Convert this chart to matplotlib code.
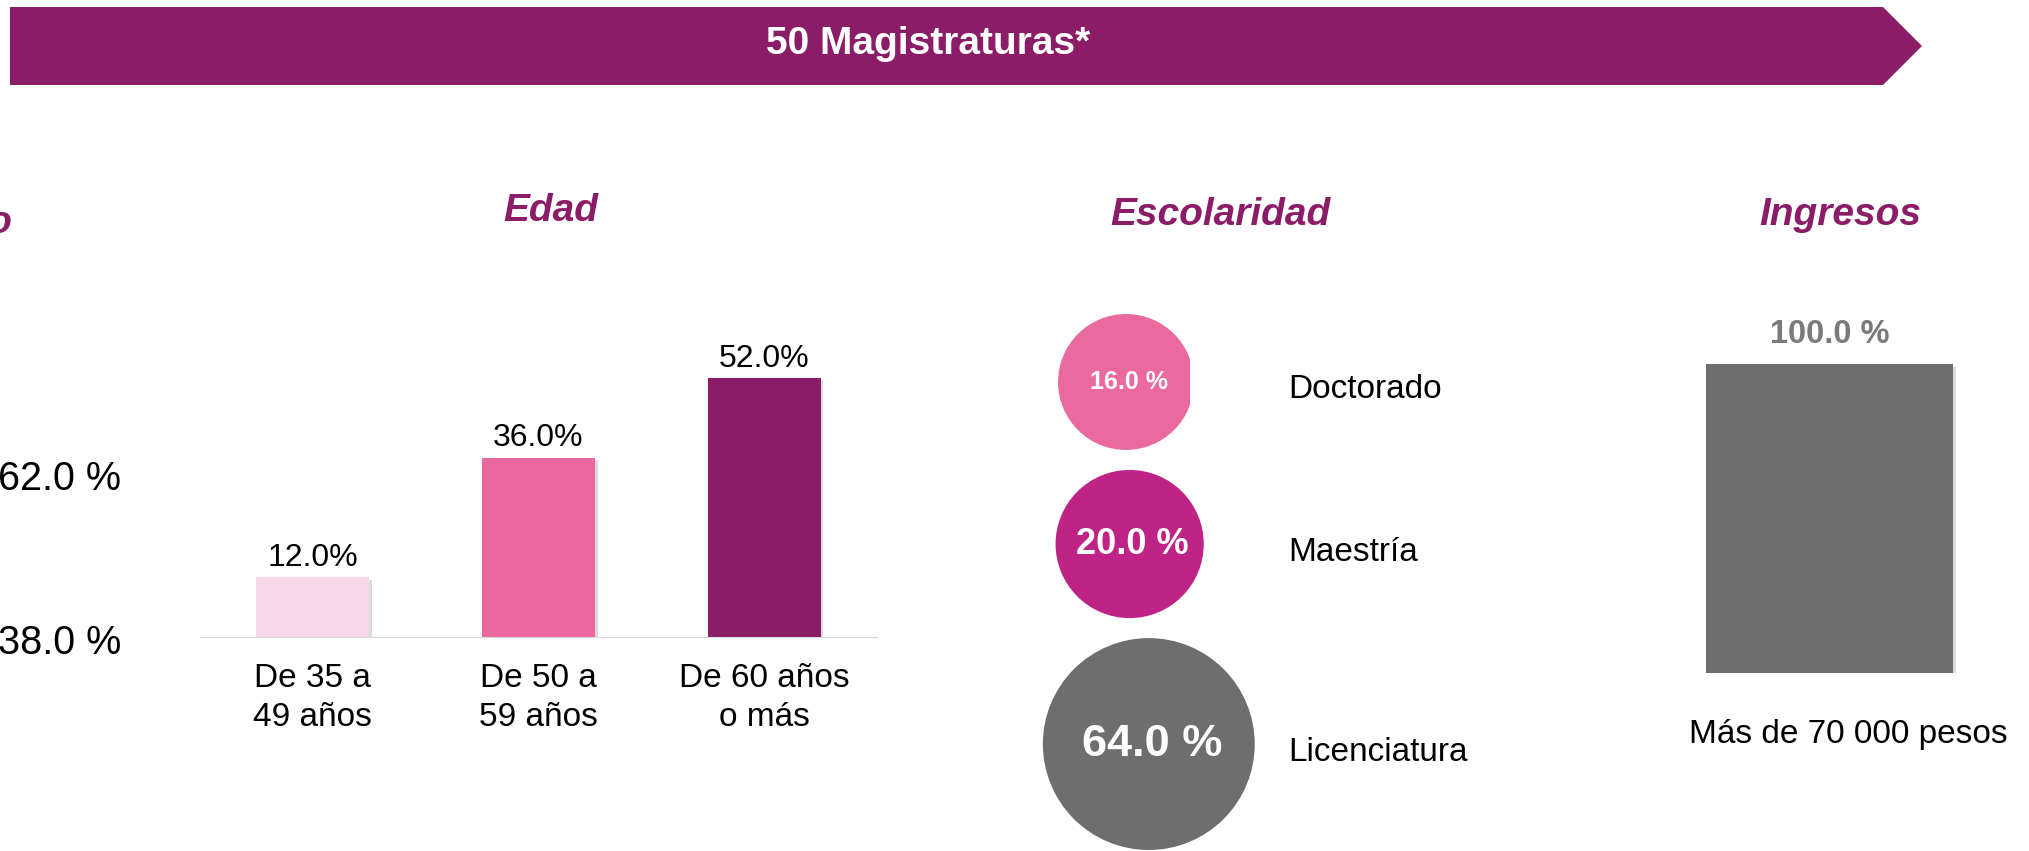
"""Perfil de magistraturas: edad, escolaridad e ingresos."""

import matplotlib.pyplot as plt
import matplotlib.patheffects as pe
import numpy as np
from matplotlib.patches import Circle, Polygon, Rectangle
from matplotlib.transforms import ScaledTranslation

plt.rcParams["font.family"] = ["Liberation Sans", "DejaVu Sans"]

W, H, DPI = 2029, 851, 100

# data
banner_title = "50 Magistraturas*"
panel_titles = ["Sexo", "Edad", "Escolaridad", "Ingresos"]
sexo_values = [62.0, 38.0]
edad_labels = ["De 35 a\n49 años", "De 50 a\n59 años", "De 60 años\no más"]
edad_values = [12.0, 36.0, 52.0]
escolaridad_labels = ["Doctorado", "Maestría", "Licenciatura"]
escolaridad_values = [16.0, 20.0, 64.0]
ingresos_labels = ["Más de 70 000 pesos"]
ingresos_values = [100.0]

PURPLE = "#8B1C67"
edad_colors = ["#F8D7E8", "#EA689F", "#8B1C67"]
esc_colors = ["#EA6A9F", "#C02386", "#6E6E6E"]
esc_label_sizes = [18, 26, 32.5]
GRAY = "#6E6E6E"
shadow = [pe.SimplePatchShadow(offset=(2, -2), shadow_rgbFace="#9a9a9a", alpha=0.35), pe.Normal()]


def box(x0, y0, x1, y1):
    # pixel box (top-left origin) -> figure fraction rect
    return [x0 / W, 1 - y1 / H, (x1 - x0) / W, (y1 - y0) / H]


fig = plt.figure(figsize=(W / DPI, H / DPI), dpi=DPI)

# background overlay in pixel units: banner + titles
bg = fig.add_axes([0, 0, 1, 1], zorder=-1)
bg.set_xlim(0, W)
bg.set_ylim(H, 0)
bg.axis("off")
bg.add_patch(Polygon([(10, 7), (1883, 7), (1922, 46), (1883, 85), (10, 85)],
                     closed=True, facecolor=PURPLE, edgecolor="none"))
bg.text(928, 44, banner_title, color="white", fontsize=28, fontweight="bold",
        ha="center", va="center")

title_kw = dict(color=PURPLE, fontsize=28, fontweight="bold", fontstyle="italic", va="center")
bg.text(12, 223, panel_titles[0], ha="right", **title_kw)
bg.text(551, 211, panel_titles[1], ha="center", **title_kw)
bg.text(1220, 215, panel_titles[2], ha="center", **title_kw)
bg.text(1840, 215, panel_titles[3], ha="center", **title_kw)

for y, v in zip([479, 643], sexo_values):
    bg.text(121, y, f"{v:.1f} %", fontsize=28.5, ha="right", va="center", color="black")

# Edad
ax = fig.add_axes(box(200, 338, 877, 637))
x = np.arange(len(edad_values))
bars = ax.bar(x, edad_values, width=0.5, color=edad_colors)
for b in bars:
    b.set_path_effects(shadow)
ax.bar_label(bars, labels=[f"{v:.1f}%" for v in edad_values], padding=3, fontsize=23)
ax.set_xlim(-0.5, 2.5)
ax.set_ylim(0, 60)
for s in ["left", "right", "top"]:
    ax.spines[s].set_visible(False)
ax.spines["bottom"].set_color("#D9D9D9")
ax.set_yticks([])
ax.set_xticks(x)
ax.set_xticklabels(edad_labels, fontsize=24, linespacing=1.3)
ax.tick_params(axis="x", length=0, pad=19)

# Escolaridad: stacked bubbles, radius grows with log of value
ax = fig.add_axes(box(1000, 280, 1500, 851))
ax.set_xlim(0, 500)
ax.set_ylim(571, 0)
ax.axis("off")
radii = -8 + 27.4 * np.log(escolaridad_values)
gap = 20
centers = 34 + np.cumsum(radii) + np.concatenate([[0], np.cumsum(radii[:-1] + gap)])
clip = Rectangle((-10, -10), 200, 700, transform=ax.transData)
for i, (lab, v, r, cy) in enumerate(zip(escolaridad_labels, escolaridad_values, radii, centers)):
    cx = 126 + 0.6 * (r - radii[0])
    c = Circle((cx, cy), r, facecolor=esc_colors[i], edgecolor="none")
    ax.add_patch(c)
    if i == 0:
        c.set_clip_path(clip)
    ax.text(cx + 3, cy, f"{v:.1f} %", color="white", fontsize=esc_label_sizes[i],
            fontweight="bold", ha="center", va="center")
    ax.text(288, cy + 8, lab, fontsize=24, ha="left", va="center", color="black")

# Ingresos
ax = fig.add_axes(box(1650, 333, 2009, 673))
bars = ax.bar(np.arange(len(ingresos_values)), ingresos_values, width=0.688, color=GRAY)
for b in bars:
    b.set_path_effects(shadow)
ax.bar_label(bars, labels=[f"{v:.1f} %" for v in ingresos_values], padding=10,
             fontsize=23.5, fontweight="bold", color="#7A7A7A")
ax.set_xlim(-0.5, 0.5)
ax.set_ylim(0, 110)
for s in ax.spines.values():
    s.set_visible(False)
ax.set_yticks([])
ax.set_xticks(np.arange(len(ingresos_values)))
ax.set_xticklabels(ingresos_labels, fontsize=24)
ax.tick_params(axis="x", length=0, pad=33)
for lbl in ax.get_xticklabels():
    lbl.set_transform(lbl.get_transform() + ScaledTranslation(19 / DPI, 0, fig.dpi_scale_trans))

fig.savefig("out.png", dpi=DPI)
